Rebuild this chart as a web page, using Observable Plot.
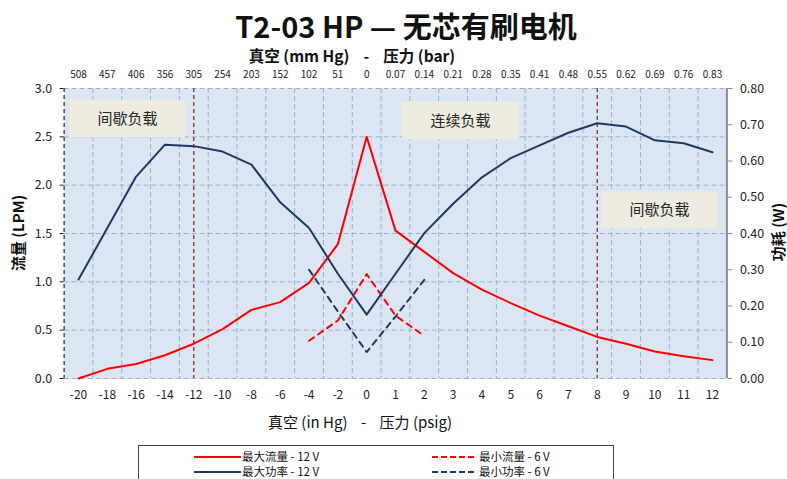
<!DOCTYPE html>
<html><head><meta charset="utf-8">
<script src="https://cdn.jsdelivr.net/npm/d3@7"></script>
<script src="https://cdn.jsdelivr.net/npm/@observablehq/plot@0.6"></script>
<style>
body{margin:0;background:#fff;font-family:"Noto Sans CJK SC","Noto Sans",sans-serif;}
#wrap{position:relative;width:787px;height:479px;overflow:hidden;}
#chart{position:absolute;left:0;top:0;}
.t{position:absolute;white-space:pre;color:#111;transform:translate(-50%,-50%);line-height:1;}
#title{left:406px;top:25px;font-size:29px;font-weight:bold;}
#sub{left:352px;top:56px;font-size:15.5px;font-weight:bold;}
#xlab{left:360px;top:421px;font-size:15px;}
#ylab{left:17px;top:233px;font-size:15px;font-weight:bold;transform:translate(-50%,-50%) rotate(-90deg);}
#y2lab{left:777px;top:232px;font-size:15px;font-weight:bold;transform:translate(-50%,-50%) rotate(-90deg);}
#legend{position:absolute;left:138px;top:445px;width:476px;height:60px;border:1px solid #404040;box-sizing:border-box;}
.li{position:absolute;font-size:11.5px;color:#111;white-space:pre;line-height:1;transform:translateY(-50%);}
.ls{position:absolute;height:0;}
</style></head><body>
<div id="wrap">
<div id="chart"></div>
<div class="t" id="title">T2-03 HP — 无芯有刷电机</div>
<div class="t" id="sub">真空 (mm Hg)    -    压力 (bar)</div>
<div class="t" id="xlab">真空 (in Hg)    -    压力 (psig)</div>
<div class="t" id="ylab">流量 (LPM)</div>
<div class="t" id="y2lab">功耗 (W)</div>
<div id="legend"></div>
</div>
<script>
// ---- data ----
const xLabels = ["-20","-18","-16","-14","-12","-10","-8","-6","-4","-2","0","1","2","3","4","5","6","7","8","9","10","11","12"];
const topLabels = ["508","457","406","356","305","254","203","152","102","51","0","0.07","0.14","0.21","0.28","0.35","0.41","0.48","0.55","0.62","0.69","0.76","0.83"];
const maxFlow = [0.00,0.10,0.15,0.24,0.36,0.51,0.71,0.79,0.99,1.39,2.50,1.53,1.31,1.09,0.92,0.78,0.65,0.54,0.43,0.36,0.28,0.23,0.19];
const maxPower = [0.273,0.415,0.557,0.645,0.641,0.626,0.590,0.486,0.415,0.289,0.176,0.289,0.401,0.482,0.555,0.608,0.643,0.678,0.704,0.695,0.657,0.649,0.624];
const minCats = ["-4","-2","0","1","2"];
const minFlow = [0.39,0.60,1.08,0.65,0.44];
const minPower = [0.300,0.185,0.073,0.171,0.272];
const flowTicks = [0,0.5,1.0,1.5,2.0,2.5,3.0];
const powerTicks = [0,0.1,0.2,0.3,0.4,0.5,0.6,0.7,0.8];
const loadBoundaries = ["-12","8"];
const notes = [
  {label:"间歇负载", x1:-0.31, x2:3.71, y1:2.49, y2:2.88},
  {label:"连续负载", x1:11.24, x2:15.27, y1:2.47, y2:2.86},
  {label:"间歇负载", x1:18.15, x2:22.17, y1:1.55, y2:1.93}
];
const legendItems = [
  {label:"最大流量 - 12 V", color:"#ff0000", dash:false},
  {label:"最小流量 - 6 V", color:"#ff0000", dash:true},
  {label:"最大功率 - 12 V", color:"#1f3864", dash:false},
  {label:"最小功率 - 6 V", color:"#1f3864", dash:true}
];

// ---- derived ----
const yMax = 3.0, pMax = 0.8, ratio = yMax / pMax;
const RED = "#ff0000", NAVY = "#1f3864";
const idx = d3.range(xLabels.length);
const flowRows = idx.map(i => ({i, v: maxFlow[i]}));
const powerRows = idx.map(i => ({i, v: maxPower[i] * ratio}));
const minRows = minCats.map((c, k) => ({i: xLabels.indexOf(c), f: minFlow[k], p: minPower[k] * ratio}));
const bounds = d3.range(xLabels.length - 1).map(i => i + 0.5);

const chart = Plot.plot({
  width: 787, height: 479,
  marginTop: 88, marginBottom: 101, marginLeft: 63.6, marginRight: 60.6,
  style: {fontFamily: "'Noto Sans CJK SC','Noto Sans',sans-serif", fontSize: "12px", color: "#222", background: "transparent"},
  x: {type: "linear", domain: [-0.5, xLabels.length - 0.5]},
  y: {domain: [0, yMax]},
  marks: [
    Plot.frame({fill: "#dce6f2", stroke: null}),
    Plot.ruleY(flowTicks, {stroke: "#95b3d7", strokeDasharray: "5,3", strokeWidth: 1}),
    Plot.ruleX(bounds, {stroke: "#95b3d7", strokeDasharray: "5,3", strokeWidth: 1}),
    Plot.ruleX([-0.5], {stroke: "#000", strokeDasharray: "4,3", strokeWidth: 1}),
    Plot.ruleX([xLabels.length - 0.5], {stroke: "#8c8c8c", strokeWidth: 2}),
    Plot.ruleX(loadBoundaries, {x: d => xLabels.indexOf(d), stroke: "#7f1f1f", strokeDasharray: "4,3", strokeWidth: 1.2}),
    Plot.rect(notes, {x1: "x1", x2: "x2", y1: "y1", y2: "y2", fill: "#eeece1"}),
    Plot.text(notes, {x: d => (d.x1 + d.x2) / 2, y: d => (d.y1 + d.y2) / 2, text: "label", fontSize: 15, fill: "#262626"}),
    Plot.line(flowRows, {x: "i", y: "v", stroke: RED, strokeWidth: 2}),
    Plot.line(minRows, {x: "i", y: "f", stroke: RED, strokeWidth: 2, strokeDasharray: "6,5"}),
    Plot.line(powerRows, {x: "i", y: "v", stroke: NAVY, strokeWidth: 2}),
    Plot.line(minRows, {x: "i", y: "p", stroke: NAVY, strokeWidth: 2, strokeDasharray: "6,5"}),
    Plot.axisX({anchor: "bottom", ticks: idx, tickFormat: i => xLabels[i], tickSize: 0, tickPadding: 12, fontSize: 12, label: null}),
    Plot.axisX({anchor: "top", ticks: idx, tickFormat: i => topLabels[i], tickSize: 0, tickPadding: 11, fontSize: 10, label: null}),
    Plot.axisY({anchor: "left", ticks: flowTicks, tickFormat: d3.format(".1f"), tickSize: 4, tickPadding: 8, fontSize: 12.5, label: null}),
    Plot.axisY({anchor: "right", ticks: powerTicks.map(p => p * ratio), tickFormat: d => d3.format(".2f")(d / ratio), tickSize: 5, tickPadding: 8, stroke: "#8c8c8c", fontSize: 12.5, label: null})
  ]
});
document.getElementById("chart").appendChild(chart);

// ---- legend ----
const lg = document.getElementById("legend");
const cols = [{sx: 55, sw: 47, tx: 103}, {sx: 293, sw: 42, tx: 340}];
const rows = [11, 26];
const order = [[0, 0, 0], [1, 0, 1], [2, 1, 0], [3, 1, 1]];
for (const [k, r, c] of order) {
  const it = legendItems[k];
  const s = document.createElement("div");
  s.className = "ls";
  s.style.left = cols[c].sx + "px";
  s.style.width = cols[c].sw + "px";
  s.style.top = (rows[r] - 1) + "px";
  s.style.borderTop = `2px ${it.dash ? "dashed" : "solid"} ${it.color}`;
  lg.appendChild(s);
  const t = document.createElement("div");
  t.className = "li";
  t.style.left = cols[c].tx + "px";
  t.style.top = rows[r] + "px";
  t.textContent = it.label;
  lg.appendChild(t);
}
</script>
</body></html>
